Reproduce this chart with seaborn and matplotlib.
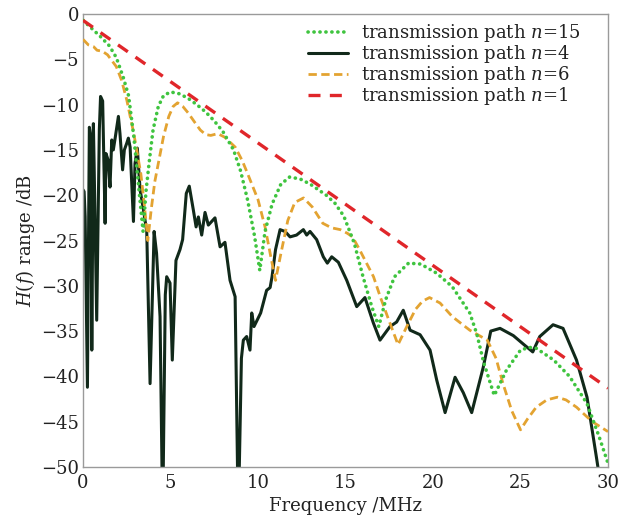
import numpy as np
import pandas as pd
import matplotlib
matplotlib.use("Agg")
import matplotlib.pyplot as plt
import seaborn as sns

# Frequency response of the power-line channel for different path counts
freq_n1 = [0.0, 30.0]
gain_n1 = [-0.7, -41.3]

freq_n15 = [0.0, 0.5, 1.0, 1.5, 1.9, 2.3, 2.6, 2.9, 3.15, 3.43, 3.6, 3.8, 4.0, 4.3, 4.6,
            5.0, 5.5, 6.0, 6.5, 7.0, 7.5, 8.0, 8.6, 9.0, 9.4, 9.8, 10.1, 10.4, 10.8,
            11.3, 11.8, 12.4, 13.0, 13.9, 14.4, 14.9, 15.5, 16.0, 16.5, 16.9, 17.3,
            17.8, 18.6, 19.3, 20.2, 21.1, 22.1, 22.5, 22.9, 23.5, 24.2, 25.0, 25.5,
            25.9, 26.9, 27.8, 28.8, 29.5, 30.0]
gain_n15 = [-0.7, -1.6, -2.5, -3.5, -4.8, -7.0, -9.0, -13.5, -18.5, -24.0, -19.5, -16.0,
            -12.8, -10.2, -9.0, -8.6, -8.8, -9.3, -10.0, -10.8, -11.8, -13.0, -15.0,
            -17.3, -20.5, -24.5, -28.3, -24.0, -21.0, -18.8, -18.0, -18.2, -18.8, -20.0,
            -20.9, -22.3, -25.3, -29.0, -32.3, -34.5, -31.5, -29.0, -27.5, -27.6, -28.6,
            -30.1, -33.0, -35.3, -38.5, -42.1, -39.3, -37.1, -36.8, -36.9, -38.2, -40.0,
            -43.0, -46.7, -49.6]

freq_n6 = [0.0, 0.3, 0.6, 0.8, 1.1, 1.4, 1.9, 2.2, 2.5, 2.9, 3.3, 3.5, 3.7, 3.9, 4.1, 4.3,
           4.6, 4.9, 5.15, 5.4, 5.7, 6.0, 6.4, 6.7, 7.0, 7.3, 7.7, 8.1, 8.7, 9.1, 9.4,
           10.0, 10.4, 10.7, 11.0, 11.3, 11.7, 12.1, 12.6, 13.1, 13.7, 14.2, 14.7, 15.1,
           15.4, 15.8, 16.2, 16.6, 17.0, 17.4, 18.0, 18.5, 19.0, 19.4, 19.8, 20.4, 21.1,
           22.1, 23.1, 23.6, 24.0, 24.5, 25.0, 25.4, 25.9, 26.5, 27.1, 27.6, 28.2, 29.1,
           30.0]
gain_n6 = [-2.8, -3.4, -3.6, -4.0, -4.1, -4.5, -5.8, -7.3, -9.5, -13.2, -17.6, -21.0,
           -25.0, -21.5, -18.5, -16.5, -13.5, -11.3, -10.2, -9.8, -10.2, -10.9, -12.0,
           -12.8, -13.3, -13.4, -13.2, -13.6, -14.7, -16.2, -17.6, -20.5, -23.5, -26.5,
           -29.4, -26.5, -22.8, -20.8, -20.3, -21.3, -23.1, -23.6, -23.8, -24.2, -24.6,
           -26.0, -27.5, -29.0, -31.3, -33.4, -36.5, -34.5, -32.6, -31.7, -31.3, -31.9,
           -33.4, -34.9, -36.0, -38.0, -40.8, -43.8, -45.9, -44.7, -43.4, -42.6, -42.3,
           -42.6, -43.4, -45.0, -46.1]

freq_n4 = [0.00, 0.06, 0.12, 0.25, 0.36, 0.44, 0.50, 0.59, 0.64, 0.78, 0.93, 1.00, 1.12,
           1.26, 1.31, 1.43, 1.54, 1.64, 1.73, 1.85, 2.02, 2.11, 2.26, 2.36, 2.49, 2.59,
           2.69, 2.88, 2.97, 3.10, 3.26, 3.45, 3.64, 3.83, 4.06, 4.20, 4.40, 4.55, 4.70,
           4.78, 4.97, 5.10, 5.31, 5.54, 5.69, 5.90, 6.07, 6.30, 6.46, 6.59, 6.78, 6.97,
           7.16, 7.54, 7.83, 8.11, 8.40, 8.69, 8.87, 9.05, 9.16, 9.35, 9.54, 9.64, 9.77,
           10.15, 10.30, 10.49, 10.69, 10.80, 11.00, 11.26, 11.54, 11.83, 12.20, 12.59,
           12.78, 12.97, 13.35, 13.73, 13.96, 14.21, 14.59, 15.07, 15.64, 16.11, 16.59,
           16.97, 17.54, 17.92, 18.30, 18.69, 19.26, 19.83, 20.21, 20.69, 21.26, 21.73,
           22.21, 22.87, 23.30, 23.83, 24.59, 25.20, 25.70, 26.10, 26.86, 27.43, 28.20,
           28.80, 29.36, 29.50]
gain_n4 = [-19.4, -19.6, -22.4, -41.2, -12.5, -13.5, -37.1, -12.1, -17.5, -33.8, -12.8,
           -9.1, -9.6, -23.1, -15.4, -16.1, -19.1, -13.9, -15.0, -13.5, -11.3, -13.2,
           -17.2, -15.0, -14.3, -13.7, -14.7, -22.9, -16.5, -14.8, -19.4, -21.6, -24.0,
           -40.8, -24.0, -26.4, -33.4, -56.0, -31.0, -29.0, -29.7, -38.2, -27.2, -26.0,
           -24.9, -19.8, -19.0, -21.6, -23.5, -22.4, -24.4, -21.9, -23.3, -22.5, -25.7,
           -25.2, -29.4, -31.2, -56.0, -38.0, -36.0, -35.6, -37.1, -33.0, -34.5, -33.0,
           -31.9, -30.5, -30.2, -29.0, -26.0, -23.8, -24.0, -24.6, -24.4, -23.8, -24.4,
           -24.0, -24.9, -26.8, -27.5, -26.8, -27.4, -29.4, -32.3, -31.3, -34.1, -36.0,
           -34.5, -34.0, -32.7, -34.9, -35.4, -37.1, -40.4, -44.0, -40.1, -41.8, -44.0,
           -39.0, -35.0, -34.7, -35.5, -36.5, -37.3, -35.6, -34.3, -34.7, -38.2, -42.3,
           -49.2, -51.0]

x_ticks = [0, 5, 10, 15, 20, 25, 30]
y_ticks = [0, -5, -10, -15, -20, -25, -30, -35, -40, -45, -50]

sns.set_theme(style="white")
plt.rcParams["font.family"] = ["DejaVu Serif"]
plt.rcParams["mathtext.fontset"] = "dejavuserif"

fig = plt.figure(figsize=(6.34, 5.20), dpi=100)
ax = fig.add_axes([0.131, 0.102, 0.828, 0.871])

sns.lineplot(x=freq_n15, y=gain_n15, ax=ax, color="#3fc43f", lw=2.6,
             linestyle=(0, (0.05, 1.6)), dash_capstyle="round",
             label="transmission path $n$=15", zorder=4)
sns.lineplot(x=freq_n4, y=gain_n4, ax=ax, color="#11291a", lw=2.2,
             label="transmission path $n$=4", zorder=2)
sns.lineplot(x=freq_n6, y=gain_n6, ax=ax, color="#e3a331", lw=2.0,
             linestyle=(0, (3.0, 1.6)), label="transmission path $n$=6", zorder=3)
sns.lineplot(x=freq_n1, y=gain_n1, ax=ax, color="#e0262a", lw=2.4,
             linestyle=(0, (3.6, 2.8)), label="transmission path $n$=1", zorder=5)

ax.set_xlim(0, 30)
ax.set_ylim(-50, 0)
ax.set_xticks(x_ticks)
ax.set_yticks(y_ticks)
ax.set_xticklabels([str(t) for t in x_ticks])
ax.set_yticklabels([("\u2212" + str(-t)) if t < 0 else str(t) for t in y_ticks])
ax.tick_params(direction="in", length=4, width=0.8, color="#9a9a9a",
               labelsize=13, pad=3, colors="#9a9a9a", labelcolor="#222222")
ax.tick_params(axis="x", pad=5)
for sp in ax.spines.values():
    sp.set_color("#9a9a9a")
    sp.set_linewidth(1.0)

ax.set_xlabel("Frequency /MHz", fontsize=13, color="#222222", labelpad=4)
ax.set_ylabel("$H(f)$ range /dB", fontsize=13, color="#222222", labelpad=3)

leg = ax.legend(loc="upper left", bbox_to_anchor=(0.4286, 0.982), frameon=False,
                fontsize=13, handlelength=2.2, handletextpad=0.75, labelspacing=-0.05,
                borderpad=0.0, borderaxespad=0.0)
for t in leg.get_texts():
    t.set_color("#222222")

fig.savefig("out.png", dpi=100)
